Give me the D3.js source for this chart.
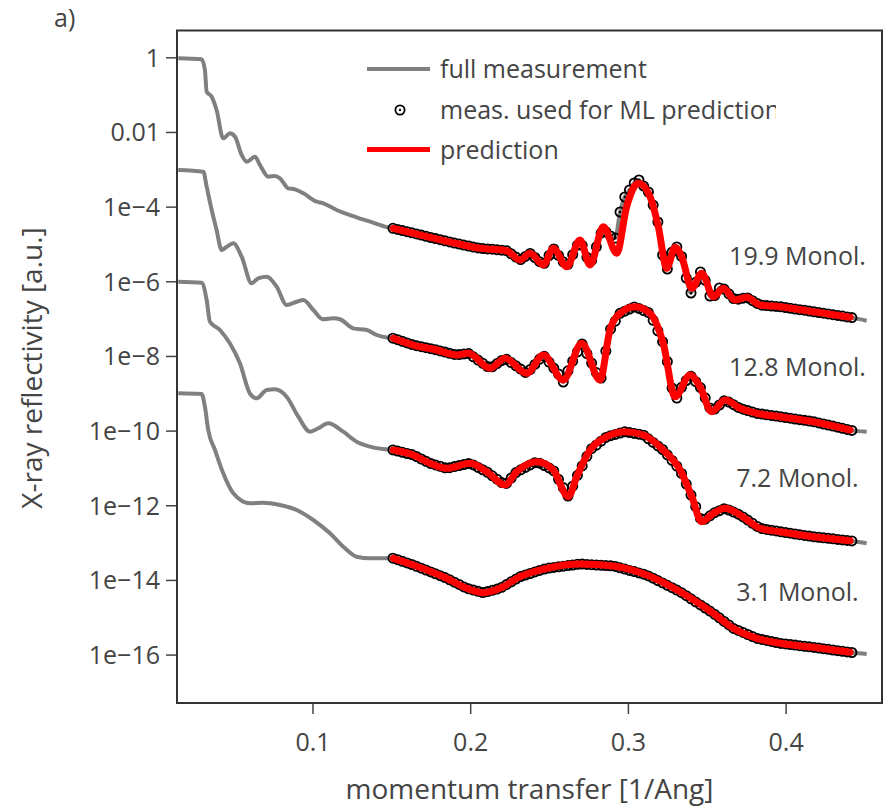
<!DOCTYPE html>
<html>
<head>
<meta charset="utf-8">
<script src="https://cdn.jsdelivr.net/npm/d3@7"></script>
<style>
  body { margin: 0; background: #fff; }
  text { font-family: "Open Sans", sans-serif; fill: #444; }
</style>
</head>
<body>
<div id="chart"></div>
<script>
// q grid of the points that were fed to the ML model [1/Ang]
const qMeas = [0.151,0.154,0.157,0.16,0.163,0.166,0.169,0.172,0.175,0.178,0.181,0.184,0.187,0.19,0.193,0.196,0.199,0.202,0.205,0.208,
  0.211,0.214,0.217,0.22,0.223,0.226,0.229,0.232,0.235,0.238,0.241,0.244,0.247,0.25,0.253,0.256,0.259,0.262,0.265,0.268,
  0.271,0.274,0.277,0.28,0.283,0.286,0.289,0.292,0.295,0.298,0.301,0.304,0.307,0.31,0.313,0.316,0.319,0.322,0.325,0.328,
  0.331,0.334,0.337,0.34,0.343,0.346,0.349,0.352,0.355,0.358,0.361,0.364,0.367,0.37,0.373,0.376,0.379,0.382,0.385,0.388,
  0.391,0.394,0.397,0.4,0.403,0.406,0.409,0.412,0.415,0.418,0.421,0.424,0.427,0.43,0.433,0.436,0.439,0.442];

// measured log10 reflectivity on qMeas (curves offset by 1e-3 each)
const meas19_9 = [-4.581,-4.610,-4.640,-4.672,-4.701,-4.733,-4.763,-4.795,-4.827,-4.857,-4.886,-4.916,-4.945,-4.975,-5.001,-5.031,-5.055,-5.082,-5.106,-5.122,
  -5.133,-5.141,-5.154,-5.167,-5.181,-5.264,-5.352,-5.419,-5.333,-5.253,-5.363,-5.475,-5.518,-5.309,-5.135,-5.307,-5.478,-5.545,-5.288,-5.033,
  -5.036,-5.358,-5.441,-5.076,-4.709,-4.672,-4.787,-4.841,-4.144,-3.742,-3.555,-3.367,-3.287,-3.448,-3.608,-3.957,-4.412,-5.296,-5.671,-5.216,
  -5.082,-5.333,-5.912,-6.314,-6.027,-5.751,-5.976,-6.394,-6.384,-6.180,-6.210,-6.335,-6.461,-6.480,-6.453,-6.445,-6.520,-6.593,-6.641,-6.651,
  -6.662,-6.673,-6.684,-6.702,-6.724,-6.743,-6.761,-6.775,-6.799,-6.817,-6.836,-6.855,-6.876,-6.895,-6.914,-6.932,-6.954,-6.973];
const meas12_8 = [-7.525,-7.565,-7.608,-7.651,-7.693,-7.726,-7.752,-7.779,-7.806,-7.833,-7.865,-7.897,-7.929,-7.959,-7.964,-7.945,-7.935,-8.023,-8.111,-8.197,
  -8.286,-8.291,-8.205,-8.122,-8.090,-8.178,-8.264,-8.352,-8.441,-8.366,-8.227,-8.085,-8.010,-8.165,-8.326,-8.484,-8.698,-8.398,-8.141,-7.892,
  -7.683,-7.940,-8.192,-8.446,-8.591,-7.868,-7.284,-7.069,-6.858,-6.802,-6.745,-6.689,-6.726,-6.783,-6.839,-7.045,-7.329,-7.618,-8.152,-8.859,
  -9.127,-8.840,-8.658,-8.543,-8.690,-8.848,-9.121,-9.392,-9.424,-9.314,-9.202,-9.236,-9.306,-9.379,-9.427,-9.464,-9.502,-9.539,-9.558,-9.577,
  -9.593,-9.611,-9.630,-9.649,-9.668,-9.689,-9.707,-9.726,-9.745,-9.766,-9.793,-9.823,-9.852,-9.879,-9.909,-9.938,-9.968,-9.994];
const meas7_2 = [-10.517,-10.549,-10.581,-10.613,-10.643,-10.696,-10.761,-10.822,-10.881,-10.919,-10.956,-10.996,-10.994,-10.964,-10.937,-10.911,-10.884,-10.921,-10.986,-11.050,
  -11.117,-11.211,-11.302,-11.393,-11.414,-11.270,-11.125,-11.050,-10.986,-10.921,-10.860,-10.873,-10.935,-10.999,-11.080,-11.305,-11.527,-11.752,-11.489,-11.197,
  -10.946,-10.688,-10.485,-10.386,-10.284,-10.182,-10.137,-10.102,-10.067,-10.032,-10.051,-10.075,-10.096,-10.123,-10.220,-10.316,-10.410,-10.506,-10.648,-10.798,
  -10.954,-11.146,-11.433,-11.728,-12.038,-12.352,-12.374,-12.282,-12.199,-12.146,-12.092,-12.127,-12.183,-12.239,-12.314,-12.397,-12.483,-12.566,-12.625,-12.647,
  -12.668,-12.689,-12.711,-12.730,-12.748,-12.770,-12.789,-12.807,-12.826,-12.845,-12.858,-12.872,-12.885,-12.899,-12.915,-12.928,-12.941,-12.955];
const meas3_1 = [-13.418,-13.458,-13.501,-13.544,-13.587,-13.635,-13.686,-13.737,-13.785,-13.836,-13.887,-13.938,-13.997,-14.061,-14.122,-14.187,-14.238,-14.270,-14.305,-14.339,
  -14.313,-14.278,-14.246,-14.198,-14.125,-14.050,-13.978,-13.908,-13.868,-13.828,-13.787,-13.747,-13.710,-13.681,-13.665,-13.648,-13.632,-13.616,-13.600,-13.581,
  -13.576,-13.584,-13.592,-13.600,-13.608,-13.614,-13.621,-13.640,-13.675,-13.710,-13.745,-13.777,-13.812,-13.847,-13.892,-13.954,-14.018,-14.082,-14.144,-14.208,
  -14.273,-14.342,-14.423,-14.506,-14.589,-14.669,-14.752,-14.835,-14.921,-15.015,-15.111,-15.205,-15.298,-15.352,-15.406,-15.462,-15.516,-15.567,-15.593,-15.620,
  -15.649,-15.676,-15.700,-15.716,-15.730,-15.746,-15.762,-15.778,-15.792,-15.808,-15.824,-15.842,-15.859,-15.877,-15.894,-15.912,-15.928,-15.944];

// full measurement below the ML range, [q, log10 R]
const low19_9 = [[0.0149,-0.027],[0.0297,-0.054],[0.0318,-0.340],[0.0329,-0.921],[0.0361,-1.055],[0.0392,-1.412],[0.0434,-2.170],[0.0477,-2.036],
  [0.0509,-2.127],[0.0551,-2.617],[0.0583,-2.797],[0.0635,-2.663],[0.0667,-2.885],[0.0720,-3.198],[0.0762,-3.180],[0.0794,-3.241],[0.0847,-3.509],
  [0.0889,-3.536],[0.0942,-3.643],[0.1027,-3.868],[0.1068,-3.911],[0.1153,-4.091],[0.1280,-4.286],[0.1365,-4.404],[0.1479,-4.559]];
const low12_8 = [[0.0149,-3.019],[0.0308,-3.065],[0.0329,-3.466],[0.0361,-4.091],[0.0392,-4.626],[0.0424,-5.162],[0.0456,-5.074],[0.0498,-4.983],
  [0.0551,-5.341],[0.0614,-6.054],[0.0656,-5.920],[0.0710,-5.877],[0.0773,-6.145],[0.0836,-6.635],[0.0900,-6.547],[0.0942,-6.501],[0.1005,-6.769],
  [0.1068,-7.018],[0.1132,-6.992],[0.1174,-7.018],[0.1259,-7.260],[0.1344,-7.305],[0.1407,-7.439],[0.1479,-7.514]];
const low7_2 = [[0.0149,-6.011],[0.0297,-6.038],[0.0329,-6.501],[0.0350,-7.083],[0.0413,-7.305],[0.0476,-7.661],[0.0540,-8.197],[0.0603,-9.001],
  [0.0646,-9.135],[0.0710,-8.912],[0.0762,-8.894],[0.0836,-9.092],[0.0910,-9.628],[0.0984,-10.029],[0.1037,-9.938],[0.1100,-9.804],[0.1195,-10.029],
  [0.1280,-10.297],[0.1365,-10.431],[0.1479,-10.509]];
const low3_1 = [[0.0149,-9.001],[0.0297,-9.020],[0.0318,-9.360],[0.0339,-9.984],[0.0382,-10.520],[0.0434,-11.144],[0.0498,-11.680],[0.0604,-11.948],
  [0.0688,-11.931],[0.0794,-11.993],[0.0900,-12.127],[0.1005,-12.395],[0.1111,-12.751],[0.1195,-13.110],[0.1280,-13.378],[0.1365,-13.421],[0.1471,-13.421]];

// full measurement above the ML range
const tail19_9 = [[0.4514,-7.056]];
const tail12_8 = [[0.4514,-10.029]];
const tail7_2 = [[0.4514,-13.019]];
const tail3_1 = [[0.4514,-15.984]];

// ML prediction, [q, log10 R]
const pred19_9 = [[0.1512,-4.581],[0.1745,-4.822],[0.1956,-5.028],[0.2062,-5.117],[0.2146,-5.143],[0.2231,-5.181],[0.2316,-5.430],[0.2379,-5.250],
  [0.2464,-5.564],[0.2527,-5.117],[0.2612,-5.609],[0.2696,-4.894],[0.2760,-5.564],[0.2844,-4.538],[0.2929,-5.250],[0.2992,-4.002],[0.3066,-3.375],
  [0.3140,-3.734],[0.3193,-4.538],[0.3246,-5.652],[0.3299,-5.090],[0.3341,-5.341],[0.3405,-6.188],[0.3468,-5.786],[0.3542,-6.413],[0.3605,-6.188],
  [0.3679,-6.501],[0.3753,-6.429],[0.3838,-6.635],[0.3964,-6.681],[0.4176,-6.815],[0.4409,-6.965]];
const pred12_8 = [[0.1512,-7.527],[0.1639,-7.707],[0.1788,-7.841],[0.1914,-7.975],[0.1988,-7.929],[0.2126,-8.331],[0.2221,-8.063],[0.2358,-8.465],
  [0.2464,-7.975],[0.2590,-8.645],[0.2707,-7.661],[0.2823,-8.645],[0.2886,-7.305],[0.2950,-6.858],[0.3045,-6.681],[0.3140,-6.858],[0.3224,-7.661],
  [0.3299,-9.092],[0.3394,-8.511],[0.3457,-8.824],[0.3531,-9.494],[0.3616,-9.180],[0.3711,-9.403],[0.3817,-9.537],[0.3964,-9.628],[0.4176,-9.762],
  [0.4409,-9.984]];
const pred7_2 = [[0.1512,-10.520],[0.1639,-10.654],[0.1745,-10.876],[0.1851,-11.010],[0.1999,-10.876],[0.2105,-11.101],[0.2221,-11.457],[0.2295,-11.101],
  [0.2422,-10.833],[0.2527,-11.055],[0.2622,-11.771],[0.2675,-11.235],[0.2760,-10.520],[0.2866,-10.163],[0.2982,-10.029],[0.3098,-10.118],[0.3224,-10.520],
  [0.3331,-11.055],[0.3405,-11.771],[0.3468,-12.440],[0.3542,-12.215],[0.3616,-12.081],[0.3711,-12.261],[0.3838,-12.617],[0.3964,-12.708],[0.4176,-12.842],
  [0.4409,-12.949]];
const pred3_1 = [[0.1512,-13.421],[0.1639,-13.600],[0.1851,-13.956],[0.1978,-14.224],[0.2083,-14.342],[0.2189,-14.224],[0.2316,-13.913],[0.2485,-13.689],
  [0.2696,-13.573],[0.2907,-13.627],[0.3119,-13.868],[0.3331,-14.315],[0.3542,-14.894],[0.3668,-15.296],[0.3817,-15.564],[0.3964,-15.698],[0.4176,-15.805],
  [0.4409,-15.939]];

const sampleLabels = ["19.9 Monol.", "12.8 Monol.", "7.2 Monol.", "3.1 Monol."];
// label anchor: q position and log10 R position
const labelQ = [0.4075, 0.4075, 0.4075, 0.4075];
const labelLog = [-5.34, -8.29, -11.28, -14.32];

const xTicks = [0.1, 0.2, 0.3, 0.4];
const yTickExp = [0, -2, -4, -6, -8, -10, -12, -14, -16];

const samples = [
  { low: low19_9, meas: meas19_9, tail: tail19_9, pred: pred19_9 },
  { low: low12_8, meas: meas12_8, tail: tail12_8, pred: pred12_8 },
  { low: low7_2, meas: meas7_2, tail: tail7_2, pred: pred7_2 },
  { low: low3_1, meas: meas3_1, tail: tail3_1, pred: pred3_1 }
];

// Dimensions
const W = 884, H = 809;
const margin = { top: 30.5, right: 2, bottom: 106, left: 177 },
      width = W - margin.left - margin.right,
      height = H - margin.top - margin.bottom;

const x = d3.scaleLinear().domain([0.0141, 0.4611]).range([0, width]);
const y = d3.scaleLog().domain([Math.pow(10, 0.718), Math.pow(10, -17.297)]).range([0, height]);

const svg = d3.select("#chart").append("svg")
    .attr("width", W)
    .attr("height", H);

const g = svg.append("g")
    .attr("transform", `translate(${margin.left},${margin.top})`);

g.append("clipPath").attr("id", "plotclip")
  .append("rect").attr("width", width).attr("height", height);

const plot = g.append("g").attr("clip-path", "url(#plotclip)");

const line = d3.line()
    .x(d => x(d[0]))
    .y(d => y(Math.pow(10, d[1])))
    .curve(d3.curveMonotoneX);

samples.forEach(s => {
  const measPairs = qMeas.map((q, i) => [q, s.meas[i]]);
  const full = s.low.concat(measPairs, s.tail);

  // full measurement
  plot.append("path")
      .datum(full)
      .attr("fill", "none")
      .attr("stroke", "#808080")
      .attr("stroke-width", 4)
      .attr("d", line);

  // measured points used for the prediction
  const pts = plot.append("g").selectAll("g")
      .data(measPairs)
      .enter().append("g")
      .attr("transform", d => `translate(${x(d[0])},${y(Math.pow(10, d[1]))})`);
  pts.append("circle")
      .attr("r", 4.6)
      .attr("fill", "none")
      .attr("stroke", "#000")
      .attr("stroke-width", 1.8);
  pts.append("circle")
      .attr("r", 1.2)
      .attr("fill", "#000");

  // prediction
  plot.append("path")
      .datum(s.pred)
      .attr("fill", "none")
      .attr("stroke", "#ff0000")
      .attr("stroke-width", 7)
      .attr("stroke-linecap", "round")
      .attr("d", line);
});

// Labels next to each curve
g.selectAll(".curve-label")
  .data(sampleLabels)
  .enter().append("text")
    .attr("class", "curve-label")
    .attr("x", (d, i) => x(labelQ[i]))
    .attr("y", (d, i) => y(Math.pow(10, labelLog[i])))
    .attr("dy", "0.35em")
    .attr("text-anchor", "middle")
    .style("font-size", "25px")
    .text(d => d);

// Axes
const xAxis = d3.axisBottom(x).tickValues(xTicks).tickSize(11).tickFormat(d3.format(".1f"));
const yAxis = d3.axisLeft(y)
    .tickValues(yTickExp.map(e => Math.pow(10, e)))
    .tickSize(11)
    .tickFormat((d, i) => {
      const e = yTickExp[i];
      if (e === 0) return "1";
      if (e === -2) return "0.01";
      return "1e\u2212" + (-e);
    });

const gx = g.append("g")
    .attr("transform", `translate(0,${height})`)
    .call(xAxis);
gx.select(".domain").remove();
gx.selectAll("line").attr("stroke", "#444").attr("stroke-width", 1.5);
gx.selectAll("text")
    .attr("y", 39).attr("dy", "0.35em")
    .style("font-size", "25px")
    .style("font-family", "'Open Sans', sans-serif")
    .attr("fill", "#444");

const gy = g.append("g").call(yAxis);
gy.select(".domain").remove();
gy.selectAll("line").attr("stroke", "#444").attr("stroke-width", 1.5);
gy.selectAll("text")
    .attr("x", -17).attr("dy", "0.35em")
    .style("font-size", "25px")
    .style("font-family", "'Open Sans', sans-serif")
    .attr("fill", "#444");

// Frame
g.append("rect")
    .attr("width", width)
    .attr("height", height)
    .attr("fill", "none")
    .attr("stroke", "#333")
    .attr("stroke-width", 2);

// Axis titles
svg.append("text")
    .attr("x", margin.left + width / 2)
    .attr("y", 789)
    .attr("dy", "0.35em")
    .attr("text-anchor", "middle")
    .style("font-size", "28px")
    .text("momentum transfer [1/Ang]");

svg.append("text")
    .attr("transform", `translate(32,368) rotate(-90)`)
    .attr("dy", "0.35em")
    .attr("text-anchor", "middle")
    .style("font-size", "28px")
    .text("X-ray reflectivity [a.u.]");

svg.append("text")
    .attr("x", 54)
    .attr("y", 18)
    .attr("dy", "0.35em")
    .style("font-size", "25px")
    .text("a)");

// Legend
const legend = svg.append("g");
legend.append("clipPath").attr("id", "legclip")
  .append("rect").attr("x", 300).attr("y", 40).attr("width", 476).attr("height", 130);
const lg = legend.append("g").attr("clip-path", "url(#legclip)");

lg.append("line")
    .attr("x1", 367).attr("x2", 430).attr("y1", 69).attr("y2", 69)
    .attr("stroke", "#808080").attr("stroke-width", 4);
lg.append("circle")
    .attr("cx", 400).attr("cy", 110).attr("r", 4.6)
    .attr("fill", "none").attr("stroke", "#000").attr("stroke-width", 1.8);
lg.append("circle")
    .attr("cx", 400).attr("cy", 110).attr("r", 1.2).attr("fill", "#000");
lg.append("line")
    .attr("x1", 367).attr("x2", 430).attr("y1", 149.5).attr("y2", 149.5)
    .attr("stroke", "#ff0000").attr("stroke-width", 5);

lg.selectAll(".legtext")
  .data(["full measurement", "meas. used for ML prediction", "prediction"])
  .enter().append("text")
    .attr("class", "legtext")
    .attr("x", 440)
    .attr("y", (d, i) => [69, 110, 150][i])
    .attr("dy", "0.35em")
    .style("font-size", "25px")
    .text(d => d);
</script>
</body>
</html>
